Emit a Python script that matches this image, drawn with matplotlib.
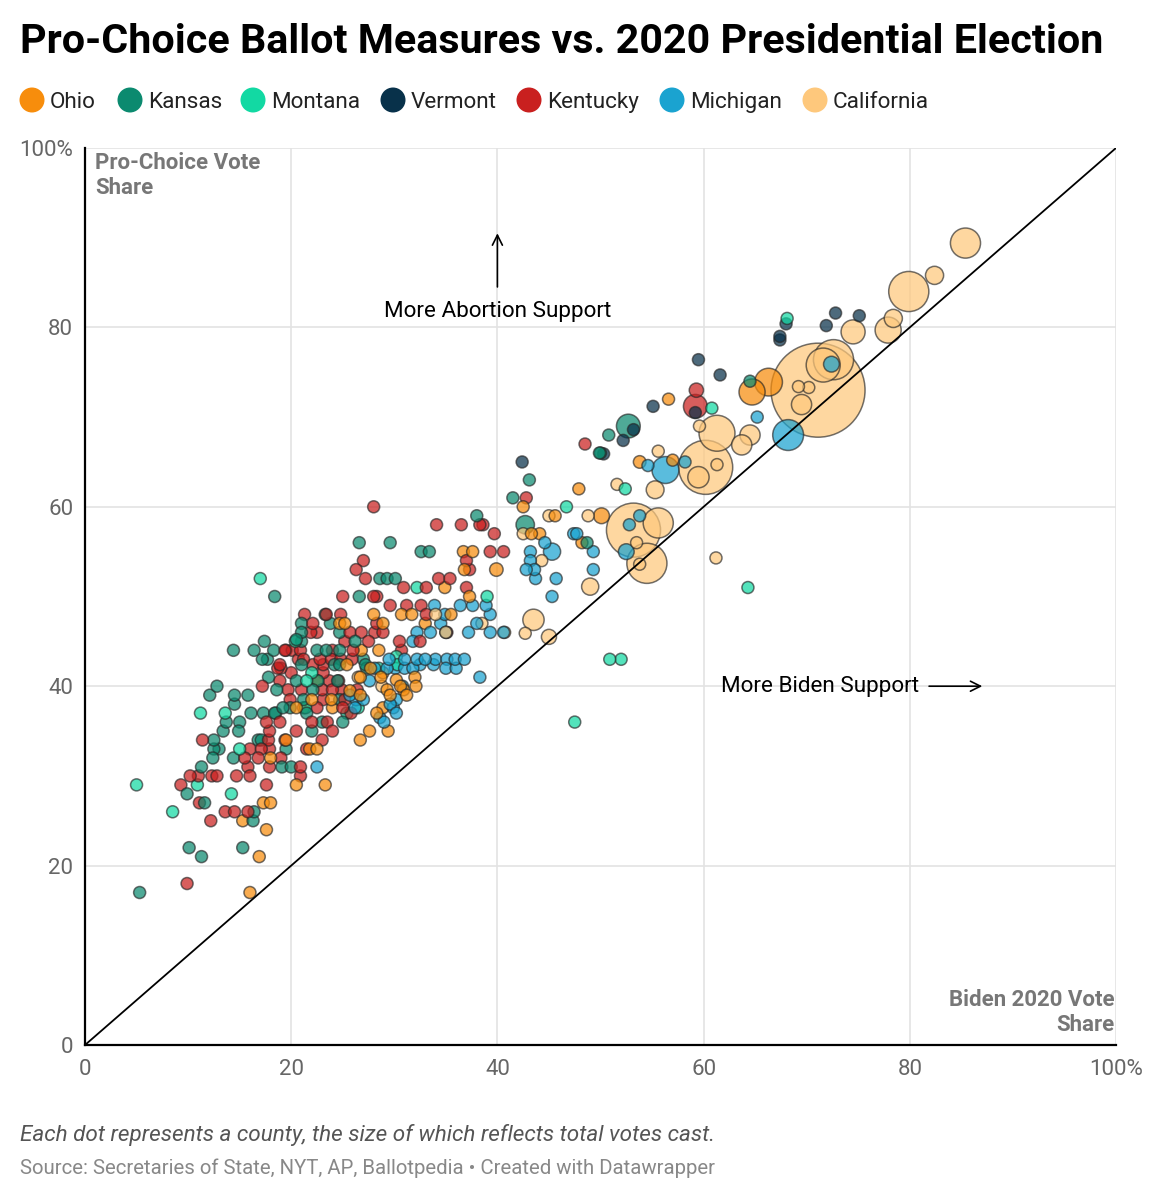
import matplotlib.pyplot as plt
import matplotlib.colors as mcolors
import numpy as np
import pandas as pd

plt.rcParams['font.family'] = ['Roboto', 'DejaVu Sans']

states = ['Ohio', 'Kansas', 'Montana', 'Vermont', 'Kentucky', 'Michigan', 'California']
colors = ['#f78d0c', '#0b8a6f', '#12d9a3', '#08314a', '#c9201f', '#1aa3d0', '#fec87c']

# (Biden 2020 share %, pro-choice share %, total votes in thousands)
ohio = [(16.0, 17, 10), (16.9, 21, 10), (17.6, 24, 10), (15.3, 25, 10), (17.3, 27, 10), (18.0, 27, 10),
        (20.5, 29, 10), (18.0, 32, 10), (19.5, 34, 10), (21.8, 33, 10), (22.5, 33, 10), (26.7, 34, 10),
        (27.6, 35, 10), (29.4, 35, 10), (28.3, 37, 10), (29.6, 39, 10), (30.6, 40, 10), (31.2, 39, 10),
        (32.1, 40, 10), (26.7, 41, 10), (28.7, 41, 10), (26.7, 39, 10), (24.7, 47, 10), (25.2, 47, 10),
        (25.4, 42.4, 10), (26.8, 44, 12), (28.5, 44, 10), (22.0, 38.5, 10), (23.9, 38.5, 10), (20.5, 37.6, 10),
        (21.2, 37.6, 10), (24.0, 37.6, 10), (28.9, 37.6, 10), (22.5, 40.6, 10), (28.0, 48, 10), (28.9, 47, 10),
        (30.7, 48, 12), (31.7, 48, 10), (34.9, 51, 12), (29.3, 39.6, 10), (30.9, 39.6, 10), (28.9, 41.5, 10),
        (30.2, 40.7, 10), (37.3, 50, 10), (39.9, 53, 80), (36.7, 55, 10), (37.6, 55, 10), (36.8, 53, 10),
        (42.5, 60, 20), (44.1, 57, 12), (43.3, 57, 10), (45.6, 59, 12), (47.9, 62, 40), (50.1, 59, 110),
        (48.2, 56, 12), (53.8, 65, 70), (57.0, 65.2, 60), (56.6, 72, 10), (64.7, 72.8, 300), (66.3, 73.9, 340),
        (23.3, 29, 10), (25.7, 39.5, 10), (33.0, 47, 10), (35.5, 48, 10), (27.7, 42, 10), (32.0, 41, 10)]

kansas = [(5.3, 17, 10), (10.1, 22, 10), (11.3, 21, 10), (15.3, 22, 10), (16.3, 25, 10), (16.4, 26, 10),
          (9.9, 28, 10), (11.6, 27, 10), (11.3, 31, 10), (12.4, 32, 10), (14.4, 32, 12), (12.5, 33, 12),
          (13.0, 33, 12), (19.5, 33, 10), (12.5, 34, 10), (16.8, 34, 10), (16.1, 37, 10), (17.3, 37, 10),
          (18.5, 37, 12), (13.7, 36, 10), (15.0, 36, 10), (13.4, 35, 12), (14.9, 35, 10), (17.1, 34, 10),
          (12.1, 39, 10), (12.8, 40, 10), (14.5, 38, 10), (14.5, 39, 10), (15.8, 39, 10), (17.8, 41, 10),
          (14.4, 44, 10), (16.4, 44, 10), (18.3, 44, 10), (17.4, 45, 10), (17.2, 43, 12), (17.7, 43, 12),
          (18.4, 50, 10), (21.0, 45, 10), (21.0, 46, 10), (20.5, 45.2, 10), (22.5, 44, 10), (23.4, 44, 10),
          (24.7, 44, 10), (26.2, 45, 10), (24.7, 46, 10), (23.8, 47, 10), (21.0, 47, 10), (23.3, 48, 10),
          (27.0, 43, 12), (21.0, 42.4, 10), (24.2, 42.4, 10), (24.7, 42.4, 10), (27.2, 42.4, 10), (20.5, 40.6, 10),
          (22.6, 40.6, 10), (24.5, 40.6, 10), (18.6, 39.6, 10), (22.1, 39.6, 10), (21.2, 38.5, 10), (24.7, 38.5, 10),
          (19.2, 37.6, 10), (19.9, 37.6, 10), (19.1, 31, 10), (21.5, 37, 10), (23.0, 36, 10), (22.0, 35, 10),
          (20.0, 31, 10), (25.0, 36, 10), (26.6, 56, 10), (29.6, 56, 10), (32.6, 55, 10), (33.4, 55, 10),
          (28.6, 52, 10), (29.3, 52, 10), (30.1, 52, 10), (26.6, 50, 10), (38.0, 59, 10), (27.3, 42, 10),
          (41.5, 61, 10), (43.1, 63, 10), (42.7, 58, 150), (50.0, 66, 10), (52.7, 69, 250), (50.8, 68, 10),
          (49.9, 66, 10), (64.5, 74, 10), (48.7, 56, 10), (18.4, 37, 10)]

montana = [(5.0, 29, 10), (8.5, 26, 10), (10.9, 29, 10), (11.2, 37, 10), (13.6, 37, 10), (17.0, 52, 10),
           (15.0, 33, 10), (14.2, 28, 10), (22.0, 41.5, 10), (21.5, 40.6, 10), (20.4, 45, 10), (30.2, 43.3, 10),
           (32.2, 51, 10), (46.7, 60, 10), (50.9, 43, 10), (52.0, 43, 10), (47.5, 36, 10), (64.3, 51, 10),
           (52.4, 62, 10), (60.8, 71, 12), (68.1, 81, 10), (25.4, 37, 10), (28.5, 42, 10), (39.0, 50, 10),
           (30.3, 42.4, 10), (21.4, 37.6, 10), (26.5, 37.6, 10)]

vermont = [(42.4, 65, 10), (50.3, 65.9, 10), (52.2, 67.4, 10), (53.2, 68.6, 10), (55.1, 71.2, 10),
           (59.2, 70.5, 10), (59.5, 76.4, 10), (61.6, 74.7, 10), (67.4, 79, 10), (67.4, 78.6, 10),
           (68.0, 80.4, 10), (71.9, 80.2, 10), (72.8, 81.6, 10), (75.1, 81.3, 45)]

kentucky = [(9.9, 18, 12), (12.2, 25, 10), (11.1, 27, 10), (13.6, 26, 10), (14.5, 26, 10), (15.8, 26, 10),
            (9.3, 29, 10), (10.2, 30, 10), (11.0, 30, 10), (12.3, 30, 12), (12.8, 30, 12), (14.7, 30, 10),
            (16.0, 30, 10), (15.8, 31, 12), (17.6, 29, 10), (17.9, 31, 10), (11.4, 34, 10), (15.5, 32, 10),
            (16.8, 32, 10), (19.0, 32, 10), (16.0, 33, 10), (17.9, 33, 10), (17.8, 34, 10), (17.9, 35, 10),
            (17.6, 36, 10), (18.9, 36, 10), (19.4, 34, 10), (17.1, 33, 10), (17.2, 40, 10), (19.0, 42, 10),
            (18.7, 42, 10), (19.5, 44, 10), (20.1, 44, 10), (20.7, 43, 10), (21.3, 48, 10), (23.4, 48, 10),
            (24.8, 48, 10), (22.1, 47, 10), (21.9, 46, 12), (22.5, 46, 12), (25.7, 46, 10), (26.8, 46, 10),
            (25.2, 45, 12), (19.4, 44, 10), (20.9, 44, 10), (24.0, 44, 10), (21.2, 43, 10), (22.8, 43, 10),
            (23.9, 43, 10), (24.8, 43, 10), (25.9, 43, 10), (18.9, 42.4, 10), (20.0, 41.5, 12), (22.1, 42.4, 12),
            (23.1, 42.4, 12), (23.1, 41.5, 12), (18.9, 40.6, 12), (23.7, 40.6, 12), (24.6, 40.6, 10),
            (19.7, 39.6, 10), (21.0, 39.6, 10), (23.0, 39.6, 10), (24.0, 39.6, 10), (24.9, 39.6, 12),
            (26.4, 39.6, 10), (19.9, 38.5, 10), (23.1, 38.5, 12), (25.2, 38.5, 10), (22.5, 37.6, 12),
            (25.0, 37.6, 10), (20.9, 31, 10), (20.9, 30, 10), (20.5, 35, 10), (22.0, 36, 10), (23.5, 36, 10),
            (23.0, 34, 10), (21.5, 33, 10), (24.0, 35, 10), (25.8, 37, 10), (28.0, 60, 10), (34.1, 58, 10),
            (36.5, 58, 10), (38.3, 58, 12), (38.6, 58, 12), (39.7, 57, 10), (27.0, 54, 10), (26.3, 53, 10),
            (27.2, 52, 10), (30.9, 51, 10), (33.1, 51, 10), (34.3, 52, 10), (35.4, 52, 10), (25.0, 50, 12),
            (28.0, 50, 12), (28.3, 50, 12), (29.6, 49, 10), (31.2, 49, 12), (32.6, 49, 10), (33.1, 48, 10),
            (28.3, 47, 12), (28.1, 46, 12), (28.9, 46, 10), (30.5, 45, 10), (30.7, 44, 12), (32.5, 45, 10),
            (35.1, 46, 12), (37.0, 51, 20), (37.3, 53, 10), (39.3, 55, 12), (40.6, 55, 12), (37.0, 54, 10),
            (42.8, 61, 30), (48.5, 67, 10), (59.3, 73, 90), (59.2, 71.2, 250), (27.5, 45, 10), (26.0, 44, 10)]

michigan = [(22.5, 31, 10), (25.7, 39, 10), (27.6, 40.6, 10), (28.1, 42, 10), (29.3, 42, 10), (30.1, 42, 12),
            (31.0, 42, 10), (31.8, 42, 10), (35.0, 42, 10), (36.0, 42, 10), (29.5, 43, 10), (31.0, 43, 10),
            (32.2, 43, 10), (33.0, 43, 10), (34.0, 43, 10), (35.1, 43, 10), (35.9, 43, 10), (36.8, 43, 10),
            (29.6, 38, 10), (30.2, 37, 10), (29.0, 36, 10), (26.2, 37.6, 10), (29.9, 37.6, 10), (26.3, 38.5, 10),
            (27.0, 38.5, 10), (30.2, 38.5, 10), (31.8, 45, 10), (32.2, 46, 10), (33.5, 46, 10), (34.5, 47, 10),
            (35.0, 46, 10), (33.9, 49, 10), (34.9, 48, 10), (36.4, 49, 12), (37.6, 49, 12), (38.9, 49, 12),
            (39.3, 48, 12), (38.0, 47, 10), (39.3, 46, 10), (40.6, 46, 10), (38.3, 41, 60), (43.2, 55, 10),
            (43.2, 54, 10), (43.6, 53, 10), (42.8, 53, 10), (43.7, 52, 12), (44.6, 56, 10), (45.3, 55, 130),
            (45.7, 52, 12), (45.3, 50, 12), (47.4, 57, 12), (47.7, 57, 12), (49.3, 55, 12), (49.3, 53, 12),
            (52.5, 55, 110), (52.8, 58, 10), (53.8, 59, 40), (54.6, 64.6, 10), (56.3, 64.1, 320), (58.2, 65, 45),
            (65.2, 70, 45), (68.2, 68, 420), (72.4, 75.9, 110), (32.5, 42.4, 10), (33.8, 42.4, 10),
            (30.8, 40, 10), (28.6, 36.5, 10), (37.2, 46, 10)]

california = [(38.5, 47, 10), (40.7, 46, 10), (42.7, 45.9, 25), (43.5, 47.4, 200), (45.0, 45.5, 100),
              (44.3, 54, 15), (45.0, 59, 15), (48.8, 59, 15), (49.0, 51.1, 130), (51.6, 62.5, 15),
              (53.2, 57.4, 1290), (54.5, 53.7, 710), (53.8, 53.6, 30), (55.6, 58.2, 400), (55.3, 61.9, 140),
              (59.5, 63.3, 200), (60.2, 64.4, 1290), (61.3, 68.2, 570), (63.7, 66.9, 180), (64.5, 68.0, 180),
              (59.6, 69, 15), (61.2, 54.3, 20), (69.2, 73.4, 20), (69.5, 71.4, 180), (70.2, 73.3, 20),
              (71.1, 73.0, 3900), (72.6, 76.4, 710), (71.6, 75.8, 510), (74.5, 79.5, 255), (77.9, 79.7, 300),
              (78.4, 81.0, 145), (79.9, 84.0, 710), (82.4, 85.8, 145), (85.4, 89.4, 400), (34.0, 48, 10),
              (35.0, 46, 10), (42.5, 57, 10), (26.5, 41, 10), (28.8, 40, 10), (61.3, 64.7, 20),
              (55.6, 66.2, 20), (53.5, 56, 60)]

frames = []
for name, pts in zip(states, [ohio, kansas, montana, vermont, kentucky, michigan, california]):
    df = pd.DataFrame(pts, columns=['biden', 'prochoice', 'votes'])
    df['state'] = name
    frames.append(df)
data = pd.concat(frames, ignore_index=True).sort_values('votes', ascending=False)

color_map = dict(zip(states, colors))
dpi = 100
radius_px = np.maximum(6, 47 * np.sqrt(data['votes'] / data['votes'].max()))
sizes = (2 * radius_px * 72 / dpi) ** 2
face = [mcolors.to_rgba(color_map[s], 0.72) for s in data['state']]

fig = plt.figure(figsize=(11.63, 12), dpi=dpi)
ax = fig.add_axes([85 / 1163, 1 - 1045 / 1200, (1116 - 85) / 1163, (1045 - 148) / 1200])

ax.scatter(data['biden'], data['prochoice'], s=sizes, c=face,
           edgecolors=(0.15, 0.15, 0.15, 0.65), linewidths=1.1, zorder=2)
ax.plot([0, 100], [0, 100], color='black', lw=1.3, zorder=3)

ax.set_xlim(0, 100)
ax.set_ylim(0, 100)
ticks = [0, 20, 40, 60, 80, 100]
ax.set_xticks(ticks)
ax.set_yticks(ticks)
ax.set_xticklabels(['0', '20', '40', '60', '80', '100%'])
ax.set_yticklabels(['0', '20', '40', '60', '80', '100%'])
ax.tick_params(length=0, labelsize=16, labelcolor='#666666')
ax.tick_params(axis='x', pad=10)
ax.tick_params(axis='y', pad=8.5)
ax.grid(True, color='#e3e3e3', lw=1.2, zorder=0)
ax.set_axisbelow(True)
for side in ['top', 'right']:
    ax.spines[side].set_visible(False)
for side in ['left', 'bottom']:
    ax.spines[side].set_color('black')
    ax.spines[side].set_linewidth(1.6)
    ax.spines[side].set_zorder(4)

ax.text(1.0, 99.6, 'Pro-Choice Vote\nShare', ha='left', va='top', fontsize=16,
        fontweight='bold', color='#777777', linespacing=1.2)
ax.text(99.9, 1.0, 'Biden 2020 Vote\nShare', ha='right', va='bottom', fontsize=16,
        fontweight='bold', color='#777777', linespacing=1.2, multialignment='right')

ax.annotate('', xy=(40, 90.8), xytext=(40, 84.2),
            arrowprops=dict(arrowstyle='->', color='black', lw=1.2, mutation_scale=18))
ax.text(40, 81.8, 'More Abortion Support', ha='center', va='center', fontsize=16.2)
ax.text(80.9, 40, 'More Biden Support', ha='right', va='center', fontsize=16.2)
ax.annotate('', xy=(87.3, 40), xytext=(81.6, 40),
            arrowprops=dict(arrowstyle='->', color='black', lw=1.2, mutation_scale=18))

# title, legend and notes
fig.text(20 / 1163, 1 - 42 / 1200, 'Pro-Choice Ballot Measures vs. 2020 Presidential Election',
         fontsize=29.7, fontweight='bold', va='center', ha='left')

leg = fig.add_axes([0, 0, 1, 1], facecolor='none')
leg.set_xlim(0, 1163)
leg.set_ylim(1200, 0)
leg.axis('off')
leg_x = [32, 130, 253, 393, 529, 672, 815]
for name, col, cx in zip(states, colors, leg_x):
    leg.scatter([cx], [100], s=(2 * 12.5 * 72 / dpi) ** 2, color=col, edgecolors='none')
    leg.text(cx + 18, 100, name, fontsize=16.2, va='center_baseline', ha='left', color='#222222')

fig.text(20 / 1163, 1 - 1135 / 1200,
         'Each dot represents a county, the size of which reflects total votes cast.',
         fontsize=16.2, style='italic', color='#555555', va='center')
fig.text(20 / 1163, 1 - 1168 / 1200,
         'Source: Secretaries of State, NYT, AP, Ballotpedia \u2022 Created with Datawrapper',
         fontsize=14.7, color='#888888', va='center')

fig.savefig('out.png', dpi=dpi)
plt.close(fig)
